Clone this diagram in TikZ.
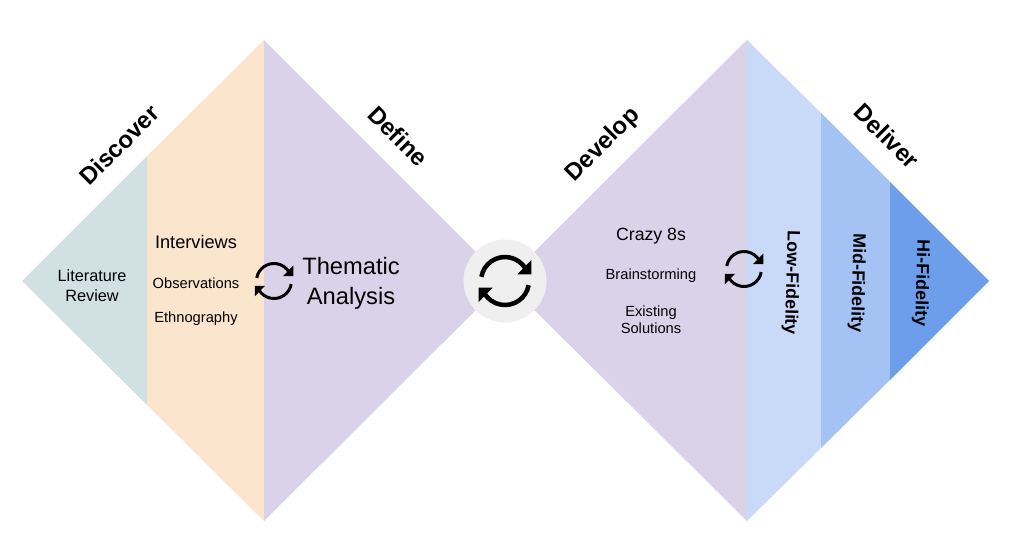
\documentclass[tikz,border=0pt]{standalone}
\usepackage{fontspec}
\setmainfont{Liberation Sans}
\usetikzlibrary{positioning}

\definecolor{litteal}{HTML}{D0E0E3}
\definecolor{interorange}{HTML}{FCE5CD}
\definecolor{themepurple}{HTML}{D9D2E9}
\definecolor{lowblue}{HTML}{C9DAF8}
\definecolor{midblue}{HTML}{A4C2F4}
\definecolor{hiblue}{HTML}{6D9EEB}
\definecolor{loopgrey}{HTML}{EFEFEF}

\tikzset{
	phase/.style={font=\bfseries\fontsize{24}{24}\selectfont},
	fidelity/.style={rotate=-91.5, font=\bfseries\fontsize{17.8}{17.8}\selectfont},
	note/.style={align=center, font=\fontsize{14.7}{19}\selectfont, inner sep=0pt},
}

% loop icon: centre, radius, line width
\newcommand{\loopicon}[3]{
	\begin{scope}[shift={#1}, x=#2pt, y=#2pt]
		\draw [line width=#3] (170:1) arc (170:30:1);
		\fill (1.10,0.28) -- (1.10,0.88) -- (0.52,0.28) -- cycle;
		\draw [line width=#3] (-10:1) arc (-10:-150:1);
		\fill (-1.10,-0.28) -- (-1.10,-0.88) -- (-0.52,-0.28) -- cycle;
	\end{scope}
}

\begin{document}
\begin{tikzpicture}[x=1pt, y=-1pt, node distance=14pt]
			\useasboundingbox (0,0) rectangle (1018,558);

			% left diamond
			\fill [litteal] (22,281) -- (147,156) -- (147,405) -- cycle;
			\fill [interorange] (147,156) -- (264,40) -- (264,521) -- (147,405) -- cycle;
			\fill [themepurple] (264,40) -- (505,281) -- (264,521) -- cycle;

			% right diamond
			\fill [themepurple] (505,281) -- (747,40) -- (747,521) -- cycle;
			\fill [lowblue] (747,40) -- (821,113) -- (821,448) -- (747,521) -- cycle;
			\fill [midblue] (821,113) -- (890,182) -- (890,380) -- (821,448) -- cycle;
			\fill [hiblue] (890,182) -- (989,281) -- (890,380) -- cycle;

			\node (loop) [circle, fill=loopgrey, minimum size=83pt, inner sep=0pt] at (505,281) {};

			\node (discover) [phase, rotate=45] at (119,145) {Discover};
			\node (define) [phase, rotate=-45] at (398,136) {Define};
			\node (develop) [phase, rotate=45] at (603,145) {Develop};
			\node (deliver) [phase, rotate=-45] at (887,136) {Deliver};

			\node (literature) [align=center, font=\fontsize{16.3}{20}\selectfont] at (92,286) {Literature\\Review};
			\node (interviews) [font=\fontsize{18.2}{18.2}\selectfont, inner sep=0pt] at (196,242) {Interviews};
			\node (observations) [note] at (196,283) {Observations};
			\node (ethnography) [note, below=23pt of observations] {Ethnography};
			\node (thematic) [align=center, font=\fontsize{23.7}{30}\selectfont] at (351,283) {Thematic\\Analysis};

			\node (crazy) [font=\fontsize{17.7}{17.7}\selectfont, inner sep=0pt] at (651,236) {Crazy 8s};
			\node (brainstorming) [note] at (651,276) {Brainstorming};
			\node (existing) [align=center, inner sep=0pt, font=\fontsize{14.7}{17}\selectfont] at (651,320) {Existing\\Solutions};

			\node (low) [fidelity] at (791,283) {Low-Fidelity};
			\node (mid) [fidelity] at (857,283) {Mid-Fidelity};
			\node (hi) [fidelity] at (921,283) {Hi-Fidelity};

			\loopicon{(505,281)}{24}{4.5pt}
			\loopicon{(274,281)}{17.5}{3pt}
			\loopicon{(744,269)}{17.5}{3pt}
		\end{tikzpicture}
\end{document}
